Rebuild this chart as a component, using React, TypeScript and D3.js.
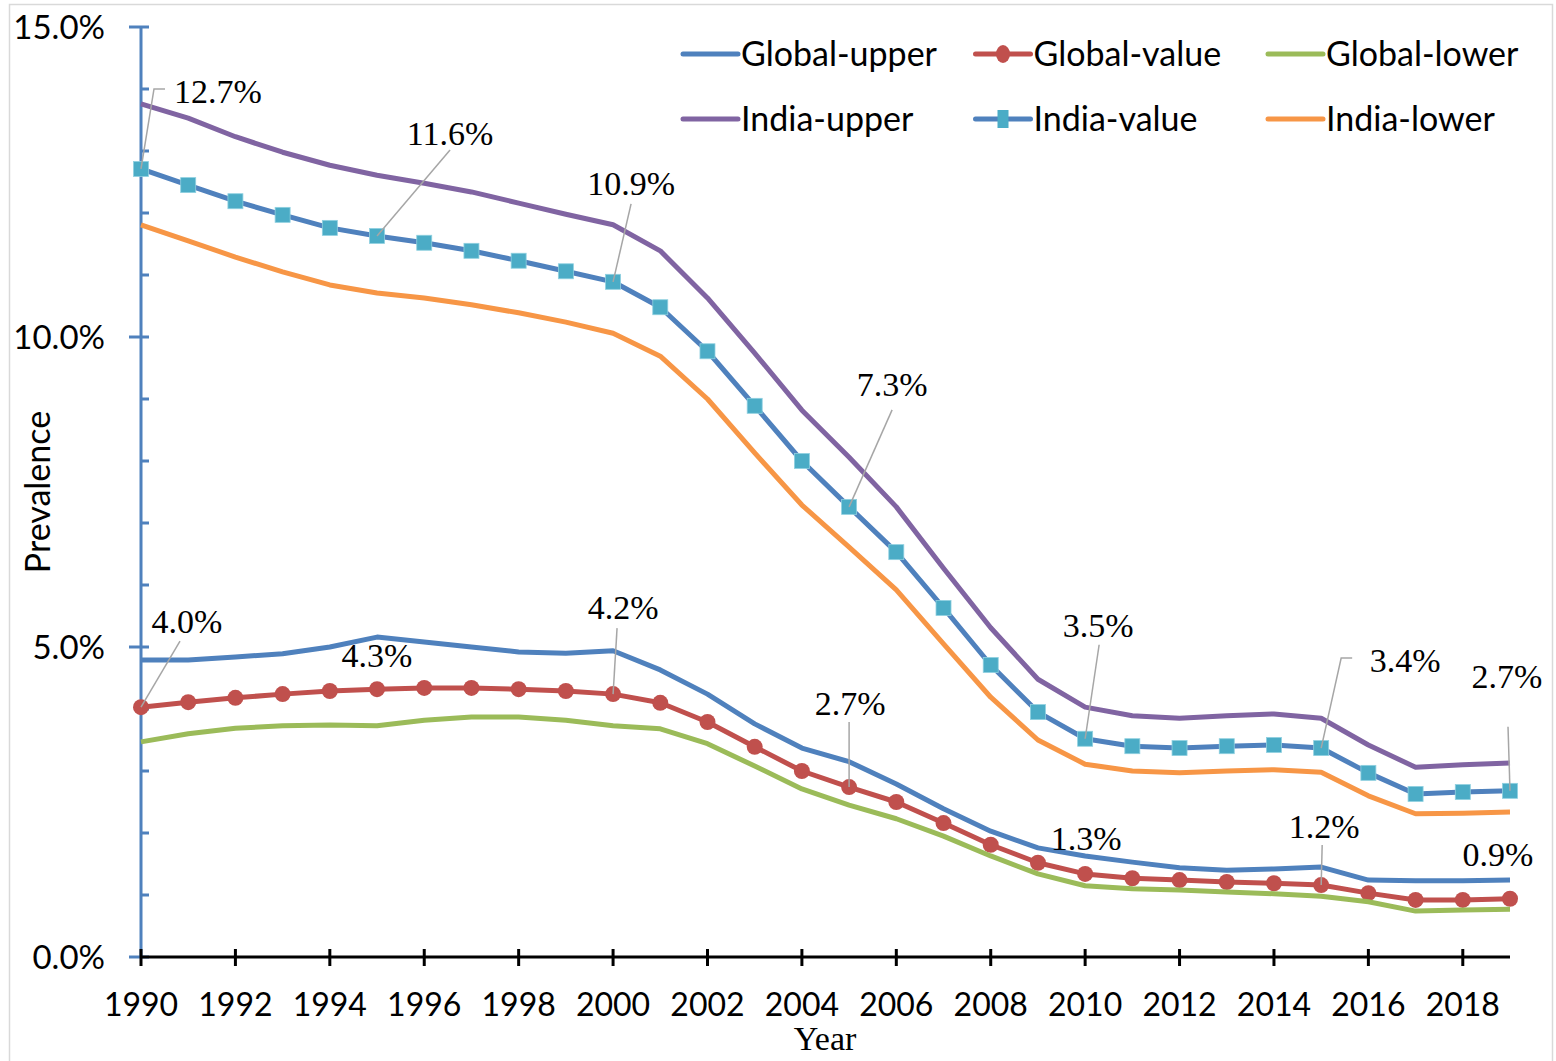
import React, { useEffect, useRef } from "react";
import * as d3 from "d3";

const years = d3.range(1990, 2020);

const globalUpper = [
  4.79, 4.79, 4.84, 4.89, 5.0, 5.16, 5.08, 5.0, 4.92, 4.9,
  4.94, 4.63, 4.24, 3.76, 3.37, 3.15, 2.79, 2.39, 2.03, 1.76,
  1.63, 1.53, 1.44, 1.4, 1.42, 1.45, 1.24, 1.23, 1.23, 1.24
];
const globalValue = [
  4.03, 4.11, 4.18, 4.24, 4.29, 4.32, 4.34, 4.34, 4.32, 4.29,
  4.24, 4.1, 3.79, 3.39, 3.0, 2.74, 2.5, 2.16, 1.81, 1.52,
  1.34, 1.27, 1.24, 1.21, 1.19, 1.16, 1.03, 0.92, 0.92, 0.94
];
const globalLower = [
  3.47, 3.6, 3.69, 3.73, 3.74, 3.73, 3.82, 3.87, 3.87, 3.82,
  3.73, 3.68, 3.44, 3.08, 2.71, 2.45, 2.23, 1.95, 1.63, 1.34,
  1.15, 1.1, 1.08, 1.05, 1.02, 0.98, 0.89, 0.74, 0.76, 0.77
];
const indiaUpper = [
  13.76, 13.53, 13.23, 12.98, 12.77, 12.61, 12.48, 12.34, 12.16, 11.98,
  11.81, 11.39, 10.63, 9.74, 8.82, 8.06, 7.26, 6.27, 5.31, 4.48,
  4.03, 3.89, 3.85, 3.89, 3.92, 3.85, 3.42, 3.06, 3.1, 3.13
];
const indiaValue = [
  12.71, 12.45, 12.19, 11.97, 11.76, 11.63, 11.52, 11.39, 11.23, 11.06,
  10.89, 10.48, 9.77, 8.89, 8.0, 7.26, 6.53, 5.63, 4.71, 3.95,
  3.52, 3.4, 3.37, 3.4, 3.42, 3.37, 2.97, 2.63, 2.66, 2.68
];
const indiaLower = [
  11.81, 11.55, 11.29, 11.05, 10.84, 10.71, 10.63, 10.52, 10.39, 10.24,
  10.06, 9.69, 9.0, 8.13, 7.29, 6.61, 5.92, 5.05, 4.19, 3.5,
  3.11, 3.0, 2.97, 3.0, 3.02, 2.98, 2.6, 2.31, 2.32, 2.34
];

const yTicks = [0, 5, 10, 15];
const xTicks = d3.range(1990, 2019, 2);

const series = [
  { name: "Global-upper", values: globalUpper, color: "#4F81BD", marker: "" },
  { name: "Global-value", values: globalValue, color: "#C0504D", marker: "circle" },
  { name: "Global-lower", values: globalLower, color: "#9BBB59", marker: "" },
  { name: "India-upper", values: indiaUpper, color: "#8064A2", marker: "" },
  { name: "India-value", values: indiaValue, color: "#4F81BD", marker: "square" },
  { name: "India-lower", values: indiaLower, color: "#F79646", marker: "" }
];

// data labels: label centre offset from the point, leader end offset from the label centre
const labels = [
  { s: "India-value", year: 1990, dx: 77, dy: -78, elbow: true },
  { s: "India-value", year: 1995, dx: 73, dy: -103, lx: 0, ly: 17 },
  { s: "India-value", year: 2000, dx: 18, dy: -99, lx: 0, ly: 21 },
  { s: "India-value", year: 2005, dx: 43, dy: -123, lx: 0, ly: 26 },
  { s: "India-value", year: 2010, dx: 13, dy: -114, lx: 1, ly: 20 },
  { s: "India-value", year: 2015, dx: 84, dy: -88, elbow: true },
  { s: "India-value", year: 2019, dx: -3, dy: -115, lx: 1, ly: 51 },
  { s: "Global-value", year: 1990, dx: 46, dy: -86, lx: -7, ly: 20 },
  { s: "Global-value", year: 1995, dx: 0, dy: -34 },
  { s: "Global-value", year: 2000, dx: 10, dy: -87, lx: -6, ly: 21 },
  { s: "Global-value", year: 2005, dx: 1, dy: -84, lx: -1, ly: 19 },
  { s: "Global-value", year: 2010, dx: 1, dy: -36 },
  { s: "Global-value", year: 2015, dx: 3, dy: -59, lx: -2, ly: 19 },
  { s: "Global-value", year: 2019, dx: -12, dy: -45 }
];

const W = 1556;
const H = 1061;
const sans = "Lato, 'Open Sans', sans-serif";
const serif = "'Liberation Serif', 'DejaVu Serif', serif";

export default function App() {
  const ref = useRef<SVGSVGElement | null>(null);

  useEffect(() => {
    const svg = d3.select(ref.current);
    svg.selectAll("*").remove();

    const x = d3.scaleLinear().domain([1990, 2019]).range([141, 1510]);
    const y = d3.scaleLinear().domain([0, 15]).range([957, 27]);

    svg.append("rect")
      .attr("x", 9.5).attr("y", 4.5)
      .attr("width", 1543).attr("height", 1070)
      .attr("fill", "#fff").attr("stroke", "#d9d9d9").attr("stroke-width", 1.5);

    // y axis
    const ya = svg.append("g");
    ya.append("line")
      .attr("x1", x(1990)).attr("x2", x(1990))
      .attr("y1", y(0)).attr("y2", y(15))
      .attr("stroke", "#4F81BD").attr("stroke-width", 3);
    ya.selectAll("line.minor")
      .data(d3.range(0, 16))
      .enter().append("line")
      .attr("class", "minor")
      .attr("x1", (d) => (d % 5 === 0 ? x(1990) - 12 : x(1990)))
      .attr("x2", x(1990) + 8)
      .attr("y1", (d) => y(d)).attr("y2", (d) => y(d))
      .attr("stroke", "#4F81BD").attr("stroke-width", 3);
    ya.selectAll("text")
      .data(yTicks)
      .enter().append("text")
      .attr("x", 105).attr("y", (d) => y(d) + 12)
      .attr("text-anchor", "end")
      .style("font-family", sans).style("font-size", "33px")
      .text((d) => d.toFixed(1) + "%");

    // x axis
    const xa = svg.append("g");
    xa.append("line")
      .attr("x1", x(1990) - 1).attr("x2", x(2019))
      .attr("y1", y(0)).attr("y2", y(0))
      .attr("stroke", "#000").attr("stroke-width", 3);
    xa.selectAll("line.tick")
      .data(xTicks)
      .enter().append("line")
      .attr("class", "tick")
      .attr("x1", (d) => x(d)).attr("x2", (d) => x(d))
      .attr("y1", y(0) - 8).attr("y2", y(0) + 9)
      .attr("stroke", "#000").attr("stroke-width", 3);
    xa.selectAll("text")
      .data(xTicks)
      .enter().append("text")
      .attr("x", (d) => x(d)).attr("y", 1016)
      .attr("text-anchor", "middle")
      .style("font-family", sans).style("font-size", "32px")
      .text((d) => d);

    svg.append("text")
      .attr("x", 825).attr("y", 1050)
      .attr("text-anchor", "middle")
      .style("font-family", serif).style("font-size", "34px")
      .text("Year");
    svg.append("text")
      .attr("transform", "translate(50,492) rotate(-90)")
      .attr("text-anchor", "middle")
      .style("font-family", sans).style("font-size", "34px")
      .text("Prevalence");

    // series
    const line = d3.line<number>()
      .x((d, i) => x(years[i]))
      .y((d) => y(d));

    series.forEach((s) => {
      const g = svg.append("g");
      g.append("path")
        .attr("d", line(s.values))
        .attr("fill", "none")
        .attr("stroke", s.color)
        .attr("stroke-width", 5)
        .attr("stroke-linejoin", "round");
      if (s.marker === "circle") {
        g.selectAll("circle")
          .data(s.values)
          .enter().append("circle")
          .attr("cx", (d, i) => x(years[i]))
          .attr("cy", (d) => y(d))
          .attr("r", 8)
          .attr("fill", "#C0504D");
      }
      if (s.marker === "square") {
        g.selectAll("rect")
          .data(s.values)
          .enter().append("rect")
          .attr("x", (d, i) => x(years[i]) - 7.5)
          .attr("y", (d) => y(d) - 7.5)
          .attr("width", 15).attr("height", 15)
          .attr("fill", "#4BACC6")
          .attr("stroke", "#8fd0e0").attr("stroke-width", 0.8);
      }
    });

    // data labels
    const lg = svg.append("g");
    labels.forEach((l) => {
      const s = series.find((d) => d.name === l.s)!;
      const v = s.values[years.indexOf(l.year)];
      const px = x(l.year);
      const py = y(v);
      const cx = px + l.dx;
      const cy = py + l.dy;
      const t = lg.append("text")
        .attr("x", cx).attr("y", cy + 12)
        .attr("text-anchor", "middle")
        .style("font-family", serif).style("font-size", "34px")
        .text(v.toFixed(1) + "%");
      if (l.elbow) {
        const left = cx - 43;
        lg.append("polyline")
          .attr("points", `${px},${py} ${left - 21},${cy - 2} ${left - 10},${cy - 2}`)
          .attr("fill", "none").attr("stroke", "#A6A6A6").attr("stroke-width", 1.5);
      } else if (l.ly !== undefined) {
        lg.append("line")
          .attr("x1", px).attr("y1", py)
          .attr("x2", cx + (l.lx || 0)).attr("y2", cy + l.ly)
          .attr("stroke", "#A6A6A6").attr("stroke-width", 1.5);
      }
      t.raise();
    });

    // legend
    const leg = svg.append("g");
    series.forEach((s, i) => {
      const lx = 683 + (i % 3) * 292.5;
      const ly = i < 3 ? 54 : 119;
      leg.append("line")
        .attr("x1", lx).attr("x2", lx + 55)
        .attr("y1", ly).attr("y2", ly)
        .attr("stroke", s.color).attr("stroke-width", 5)
        .attr("stroke-linecap", "round");
      if (s.marker === "circle") {
        leg.append("ellipse")
          .attr("cx", lx + 27.5).attr("cy", ly)
          .attr("rx", 7).attr("ry", 9)
          .attr("fill", "#C0504D");
      }
      if (s.marker === "square") {
        leg.append("rect")
          .attr("x", lx + 22).attr("y", ly - 9)
          .attr("width", 11).attr("height", 18)
          .attr("fill", "#4BACC6");
      }
      leg.append("text")
        .attr("x", lx + 58).attr("y", ly + 12)
        .style("font-family", sans).style("font-size", "34px")
        .text(s.name);
    });
  }, []);

  return (
    <svg
      ref={ref}
      width={W}
      height={H}
      style={{ position: "absolute", left: 0, top: 0, background: "#fff" }}
    />
  );
}
